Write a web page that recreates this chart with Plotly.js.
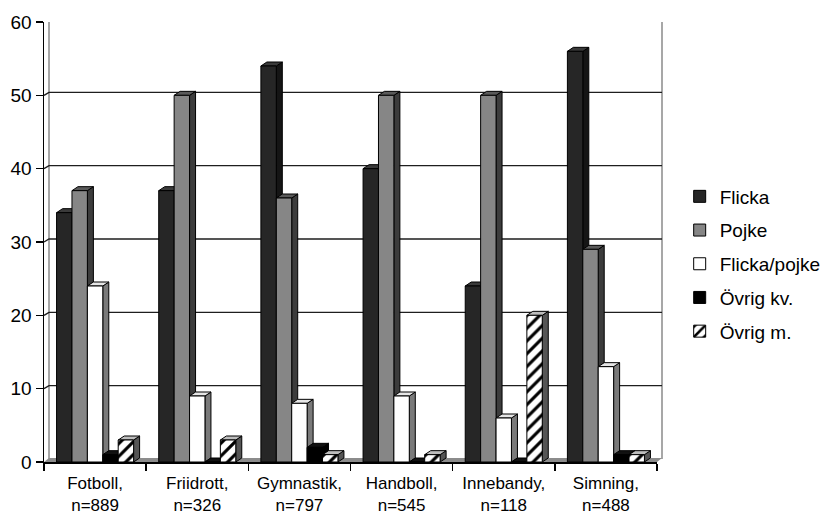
<!DOCTYPE html>
<html><head><meta charset="utf-8">
<script src="https://cdn.plot.ly/plotly-3.0.1.min.js"></script>
<style>html,body{margin:0;padding:0;background:#fff}</style>
</head><body><div id="chart" style="width:826px;height:520px"></div>
<script>
const sports = ['Fotboll','Friidrott','Gymnastik','Handboll','Innebandy','Simning'];
const sampleSizes = [889,326,797,545,118,488];
const seriesNames = ['Flicka','Pojke','Flicka/pojke','Övrig kv.','Övrig m.'];
const flicka = [34,37,54,40,24,56];
const pojke = [37,50,36,50,50,29];
const flickaPojke = [24,9,8,9,6,13];
const ovrigKv = [1,0,2,0,0,1];
const ovrigM = [3,3,1,1,20,1];
const yTicks = [0,10,20,30,40,50,60];

const seriesValues = [flicka,pojke,flickaPojke,ovrigKv,ovrigM];
const frontColors = ['#262626','#868686','#ffffff','#000000','#ffffff'];
const sideColors  = ['#151515','#3c3c3c','#7a7a7a','#000000','#555555'];
const topColors   = ['#3a3a3a','#5a5a5a','#e6e6e6','#111111','#bdbdbd'];

const W = 826, H = 520;
const M = {l:44, r:169, t:22, b:58, autoexpand:false};
const plotW = W - M.l - M.r, plotH = H - M.t - M.b;
const yMax = 60;
const pxPerUnit = plotH / yMax;
const bargap = 0.246;
const nS = seriesValues.length;
const bw = (1 - bargap) / nS;
const bwPx = bw * plotW / sports.length;
const DX = 6, DY = 4;
const WX = 5, WY = 3;

const labels = sports.map((s,i) => s + ',<br>n=' + sampleSizes[i]);
const baseFont = {family:'"Liberation Sans", Arial, sans-serif', size:19, color:'#000'};
const xFont = {family:'"Liberation Sans", Arial, sans-serif', size:17, color:'#000'};

const traces = seriesValues.map((vals,si) => {
  const marker = {color: frontColors[si], line:{color:'#000', width:1}};
  if (si === 4) marker.pattern = {shape:'/', fgcolor:'#000', bgcolor:'#fff', size:9, solidity:0.35};
  return {type:'bar', name: seriesNames[si], x: labels, y: vals, marker,
          legendgroup: 'g'+si, hoverinfo:'skip'};
});

const shapes = [];
shapes.push({type:'path', layer:'below', xref:'paper', yref:'y', xsizemode:'pixel', ysizemode:'pixel',
  xanchor:0, yanchor:0,
  path:`M${WX},${WY} L${WX},${plotH+WY-1} L${plotW+WX},${plotH+WY-1} L${plotW+WX},${WY}`,
  fillcolor:'rgba(0,0,0,0)', line:{color:'#8a8a8a', width:1.5}});
yTicks.filter(t => t > 0 && t < yMax).forEach(t => {
  shapes.push({type:'path', layer:'below', xref:'paper', yref:'y', xsizemode:'pixel', ysizemode:'pixel',
    xanchor:0, yanchor:t, path:`M0,0 L${WX},${WY} L${plotW+WX},${WY}`,
    line:{color:'#1e1e1e', width:1.4}});
});
shapes.push({type:'path', layer:'below', xref:'paper', yref:'y', xsizemode:'pixel', ysizemode:'pixel',
  xanchor:0, yanchor:0, path:`M0,0 L${plotW},0 L${plotW+WX},${WY+1} L${WX},${WY+1} Z`,
  fillcolor:'#8c8c8c', line:{width:0}});
sports.forEach((s,ci) => {
  seriesValues.forEach((vals,si) => {
    const v = vals[ci];
    const xc = ci + (si - (nS-1)/2) * bw;
    const left = xc - bw/2, right = xc + bw/2;
    const h = v * pxPerUnit;
    shapes.push({type:'path', layer:'below', xref:'x', yref:'y', xsizemode:'pixel', ysizemode:'pixel',
      xanchor:right, yanchor:0, path:`M0,0 L0,${h} L${DX},${h+DY} L${DX},${DY} Z`,
      fillcolor: sideColors[si], line:{color:'#000', width:1}});
    shapes.push({type:'path', layer:'below', xref:'x', yref:'y', xsizemode:'pixel', ysizemode:'pixel',
      xanchor:left, yanchor:v, path:`M0,0 L${bwPx},0 L${bwPx+DX},${DY} L${DX},${DY} Z`,
      fillcolor: topColors[si], line:{color:'#000', width:1}});
  });
});

const layout = {
  width:W, height:H, margin:M,
  paper_bgcolor:'#fff', plot_bgcolor:'rgba(0,0,0,0)',
  barmode:'group', bargap: bargap, bargroupgap:0,
  font: baseFont, showlegend:true,
  xaxis:{type:'category', tickson:'boundaries', ticks:'outside', ticklen:7, tickwidth:1.5, tickcolor:'#000',
         showline:true, linecolor:'#000', linewidth:1.5, showgrid:false, tickfont:xFont, automargin:false,
         tickangle:0, ticklabelstandoff:5},
  yaxis:{range:[0,yMax], tickvals:yTicks, ticks:'outside', ticklen:7, tickwidth:1.5, tickcolor:'#000',
         showline:true, linecolor:'#000', linewidth:1.5, showgrid:false, zeroline:false, tickfont:baseFont,
         automargin:false, ticklabelstandoff:0},
  legend:{x:1.037, y:0.45, xanchor:'left', yanchor:'middle', font:baseFont, traceorder:'grouped',
          tracegroupgap:6, bgcolor:'rgba(0,0,0,0)'},
  shapes: shapes
};
Plotly.newPlot('chart', traces, layout, {staticPlot:true, displayModeBar:false});
</script></body></html>
